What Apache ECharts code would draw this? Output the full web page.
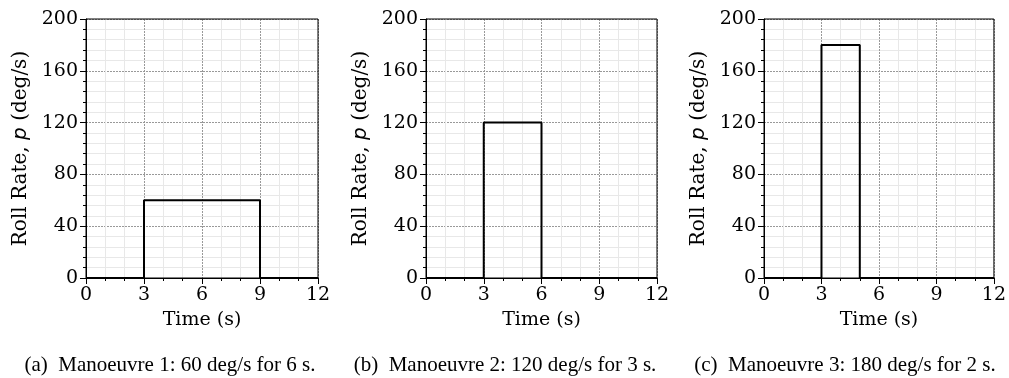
<!DOCTYPE html>
<html>
<head>
<meta charset="utf-8">
<script src="https://cdn.jsdelivr.net/npm/echarts@6/dist/echarts.min.js"></script>
<style>
html, body { margin: 0; padding: 0; background: #fff; }
#chart { width: 1009px; height: 378px; }
</style>
</head>
<body>
<div id="chart"></div>
<script>
// step input for each manoeuvre
const time = [
  [0, 3, 3, 9, 9, 12],
  [0, 3, 3, 6, 6, 12],
  [0, 3, 3, 5, 5, 12]
]
const rollRate = [
  [0, 0, 60, 60, 0, 0],
  [0, 0, 120, 120, 0, 0],
  [0, 0, 180, 180, 0, 0]
]
const xTicks = [0, 3, 6, 9, 12]
const yTicks = [0, 40, 80, 120, 160, 200]
const captions = [
  '(a)  Manoeuvre 1: 60 deg/s for 6 s.',
  '(b)  Manoeuvre 2: 120 deg/s for 3 s.',
  '(c)  Manoeuvre 3: 180 deg/s for 2 s.'
]

const font = 'DejaVu Serif'
const capFont = 'Liberation Serif'
const grids = [
  { left: 86, top: 19, width: 232, height: 259 },
  { left: 426, top: 19, width: 231, height: 259 },
  { left: 764, top: 19, width: 232, height: 259 }
]
const captionX = [170, 505, 845]

const chart = echarts.init(document.getElementById('chart'), null, { renderer: 'canvas' })

const option = {
  animation: false,
  grid: grids.map(g => Object.assign({ show: true, borderColor: '#000', borderWidth: 1, z: 3 }, g)),
  xAxis: grids.map((g, i) => ({
    type: 'value',
    gridIndex: i,
    min: xTicks[0],
    max: xTicks[xTicks.length - 1],
    interval: 3,
    name: 'Time (s)',
    nameLocation: 'middle',
    nameGap: 33,
    nameTextStyle: { fontFamily: font, fontSize: 19, color: '#000' },
    axisLine: { show: true, lineStyle: { color: '#000', width: 1 } },
    axisTick: { show: true, length: 6, lineStyle: { color: '#000' } },
    minorTick: { show: true, splitNumber: 3, length: 3, lineStyle: { color: '#000' } },
    axisLabel: { fontFamily: font, fontSize: 19, color: '#000', margin: 8 },
    splitLine: { show: true, lineStyle: { color: '#999', type: [2, 1], width: 1 } },
    minorSplitLine: { show: true, lineStyle: { color: '#e8e8e8', width: 1 } }
  })),
  yAxis: grids.map((g, i) => ({
    type: 'value',
    gridIndex: i,
    min: yTicks[0],
    max: yTicks[yTicks.length - 1],
    interval: 40,
    name: '{a|Roll Rate, }{i|p}{a| (deg/s)}',
    nameLocation: 'middle',
    nameGap: 55,
    nameTextStyle: {
      rich: {
        a: { fontFamily: font, fontSize: 20, color: '#000' },
        i: { fontFamily: 'DejaVu Sans', fontStyle: 'italic', fontSize: 20, color: '#000' }
      }
    },
    axisLine: { show: true, lineStyle: { color: '#000', width: 1 } },
    axisTick: { show: true, length: 6, lineStyle: { color: '#000' } },
    minorTick: { show: true, splitNumber: 5, length: 3, lineStyle: { color: '#000' } },
    axisLabel: { fontFamily: font, fontSize: 19, color: '#000', margin: 8 },
    splitLine: { show: true, lineStyle: { color: '#999', type: [2, 1], width: 1 } },
    minorSplitLine: { show: true, lineStyle: { color: '#e8e8e8', width: 1 } }
  })),
  series: rollRate.map((vals, i) => ({
    type: 'line',
    xAxisIndex: i,
    yAxisIndex: i,
    data: vals.map((v, k) => [time[i][k], v]),
    showSymbol: false,
    lineStyle: { color: '#000', width: 2 },
    z: 5
  })),
  graphic: captions.map((c, i) => ({
    type: 'text',
    x: captionX[i],
    y: 365,
    style: { text: c, fontFamily: capFont, fontSize: 21, fill: '#000', align: 'center', verticalAlign: 'middle' }
  }))
}

chart.setOption(option)
</script>
</body>
</html>
